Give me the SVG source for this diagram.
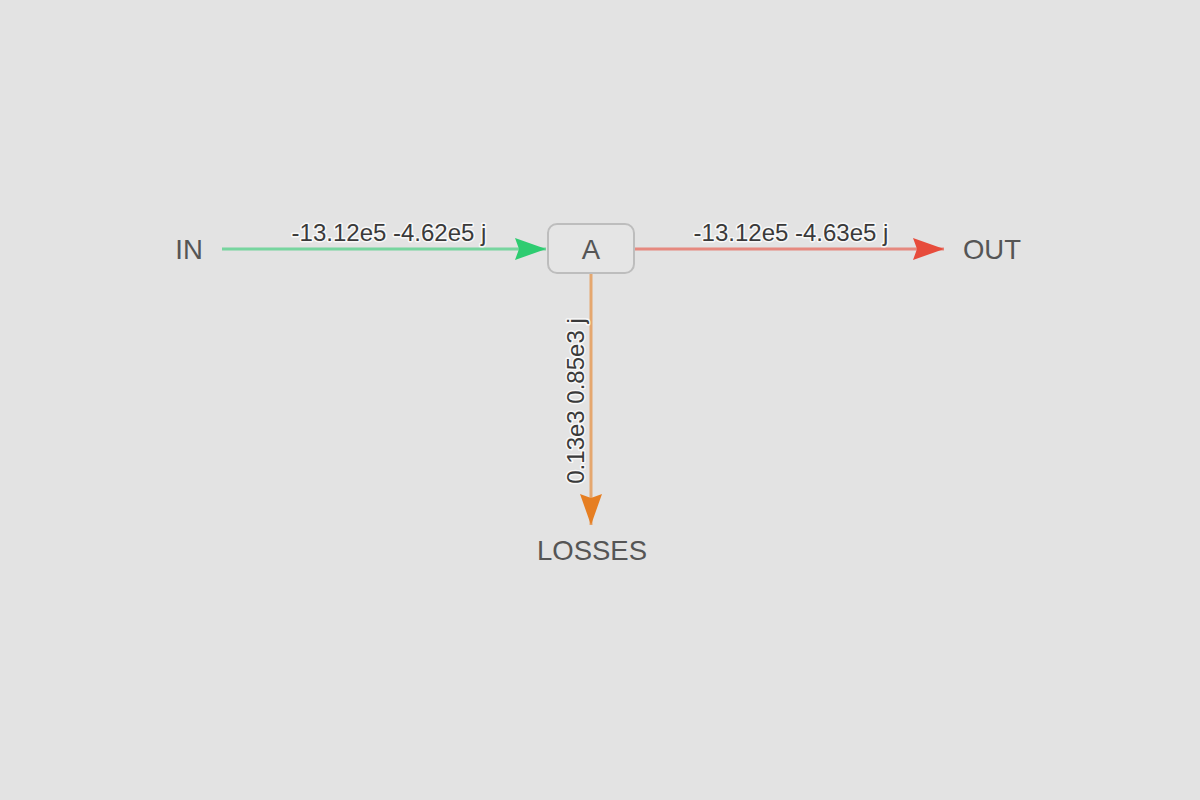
<svg xmlns="http://www.w3.org/2000/svg" width="1200" height="800" viewBox="0 0 1200 800">
<defs>
<style>
.bg{fill:#e3e3e3}
.node-label{font-family:"Liberation Sans",Arial,sans-serif;font-size:27.5px;fill:#555;text-anchor:middle}
.edge-label{font-family:"Liberation Sans",Arial,sans-serif;font-size:24px;fill:#3a3a3a;text-anchor:middle;stroke:#fff;stroke-width:3px;stroke-opacity:0.8;paint-order:stroke;stroke-linejoin:round}
.box{fill:#e5e5e5;stroke:#bdbdbd;stroke-width:2}
.line{stroke-width:3;fill:none;stroke-opacity:0.6}
</style>
<marker id="arrG" viewBox="0 0 31 22" refX="31" refY="11" markerWidth="31" markerHeight="22" markerUnits="userSpaceOnUse" orient="auto"><path d="M0,0 L31,11 L0,22 L4,11 Z" fill="#2ecc71"/></marker>
<marker id="arrR" viewBox="0 0 31 22" refX="31" refY="11" markerWidth="31" markerHeight="22" markerUnits="userSpaceOnUse" orient="auto"><path d="M0,0 L31,11 L0,22 L4,11 Z" fill="#e74c3c"/></marker>
<marker id="arrO" viewBox="0 0 31 22" refX="31" refY="11" markerWidth="31" markerHeight="22" markerUnits="userSpaceOnUse" orient="auto"><path d="M0,0 L31,11 L0,22 L4,11 Z" fill="#e67e22"/></marker>
</defs>
<rect class="bg" x="0" y="0" width="1200" height="800"/>
<g id="connectors">
<g id="edge-in-a">
<line class="line" x1="222" y1="249" x2="546" y2="249" stroke="#2ecc71" marker-end="url(#arrG)"/>
<text class="edge-label" x="389" y="241">-13.12e5 -4.62e5 j</text>
</g>
<g id="edge-a-out">
<line class="line" x1="635" y1="249" x2="944" y2="249" stroke="#e74c3c" marker-end="url(#arrR)"/>
<text class="edge-label" x="791" y="241">-13.12e5 -4.63e5 j</text>
</g>
<g id="edge-a-losses">
<line class="line" x1="591" y1="274" x2="591" y2="525" stroke="#e67e22" marker-end="url(#arrO)"/>
<text class="edge-label" x="0" y="0" transform="translate(584,401) rotate(-90)">0.13e3 0.85e3 j</text>
</g>
</g>
<g id="node-in">
<text class="node-label" x="189" y="259">IN</text>
</g>
<g id="node-a">
<rect class="box" x="548" y="224" width="86" height="49" rx="9" ry="9"/>
<text class="node-label" x="591" y="259">A</text>
</g>
<g id="node-out">
<text class="node-label" x="992" y="259">OUT</text>
</g>
<g id="node-losses">
<text class="node-label" x="592" y="560">LOSSES</text>
</g>
</svg>
